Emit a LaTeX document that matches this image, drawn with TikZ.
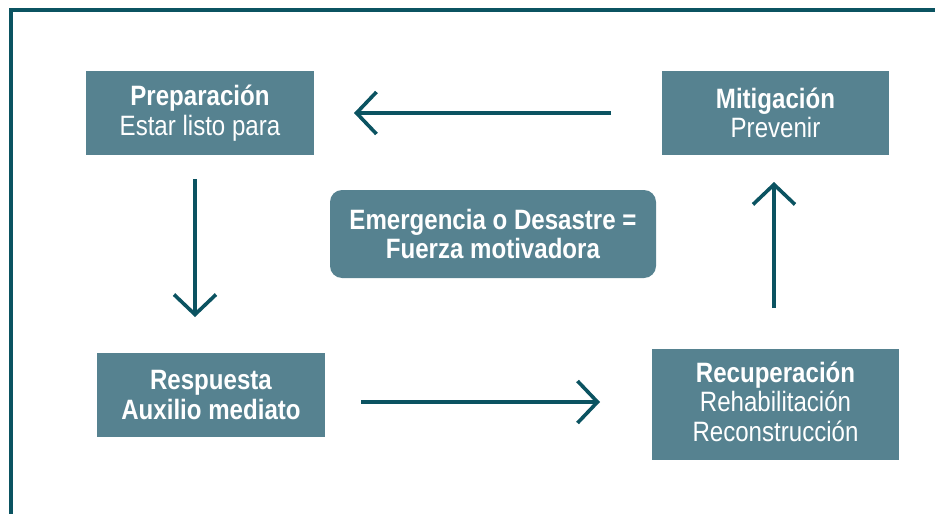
\documentclass[tikz,border=0pt]{standalone}
\usepackage{fontspec}
\setmainfont{Liberation Sans}[FakeStretch=0.86]
\usetikzlibrary{arrows.meta}
\definecolor{dark}{HTML}{0B5361}
\definecolor{boxc}{HTML}{568290}
\tikzset{
  phase/.style={fill=boxc, text=white, align=center, inner sep=0pt, font=\fontsize{28}{29.5}\selectfont},
  flow/.style={draw=dark, line width=3.6pt, -{Straight Barb[length=20pt,width=42pt,line width=3.6pt]}},
}
\begin{document}
\begin{tikzpicture}[x=1pt,y=-1pt]
\useasboundingbox (0,0) rectangle (935,514);
\draw[dark, line width=3.6pt] (935,10) -- (11,10) -- (11,514);
\node[phase, minimum width=228pt, minimum height=84pt] (prep) at (200,113) {\textbf{Preparación}\\Estar listo para};
\node[phase, minimum width=227pt, minimum height=84pt] (mit) at (775.5,113) {\textbf{Mitigación}\\Prevenir};
\node[phase, minimum width=228pt, minimum height=84pt] (resp) at (211,395) {\textbf{Respuesta}\\\textbf{Auxilio mediato}};
\node[phase, minimum width=247pt, minimum height=111pt] (recu) at (775.5,404.5) {\textbf{Recuperación}\\Rehabilitación\\Reconstrucción\\[-23.5pt]};
\node[phase, rounded corners=12pt, minimum width=326pt, minimum height=88pt] (emer) at (493,234) {\textbf{Emergencia o Desastre =}\\\textbf{Fuerza motivadora}};
\coordinate (a1s) at (611,113); \coordinate (a1e) at (354,113);
\coordinate (a2s) at (195,179); \coordinate (a2e) at (195,317);
\coordinate (a3s) at (361,402); \coordinate (a3e) at (600,402);
\coordinate (a4s) at (774,308); \coordinate (a4e) at (774,182);
\draw[flow] (a1s) -- (a1e);
\draw[flow] (a2s) -- (a2e);
\draw[flow] (a3s) -- (a3e);
\draw[flow] (a4s) -- (a4e);
\end{tikzpicture}
\end{document}
